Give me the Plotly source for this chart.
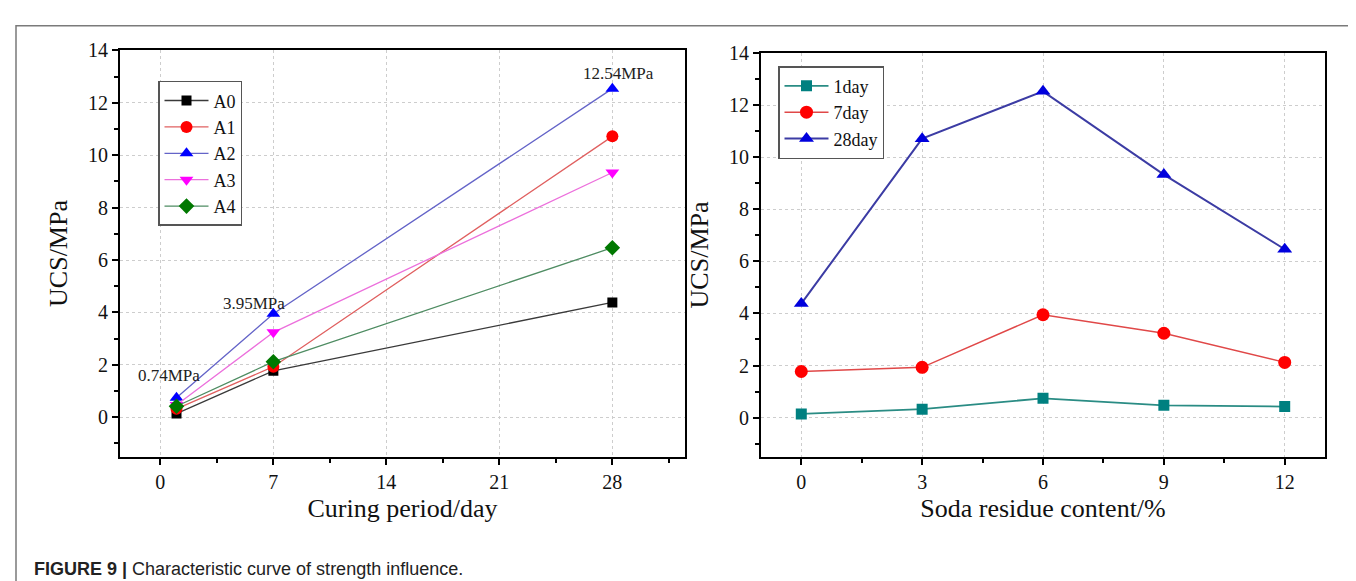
import plotly.graph_objects as go

# ---------------- data ----------------
days = [1, 7, 28]
A0 = [0.14, 1.77, 4.38]
A1 = [0.32, 1.93, 10.72]
A2 = [0.74, 3.95, 12.54]
A3 = [0.47, 3.24, 9.34]
A4 = [0.42, 2.12, 6.47]
left_names = ["A0", "A1", "A2", "A3", "A4"]

content = [0, 3, 6, 9, 12]
day1 = [0.14, 0.32, 0.74, 0.47, 0.42]
day7 = [1.77, 1.93, 3.95, 3.24, 2.12]
day28 = [4.38, 10.72, 12.54, 9.34, 6.47]
right_names = ["1day", "7day", "28day"]

labels_text = ["0.74MPa", "3.95MPa", "12.54MPa"]
label_x = [0.56, 5.8, 28.4]
label_y = [1.59, 4.36, 13.13]

W, H = 1356, 581
SERIF = "Liberation Serif, Times New Roman, serif"
SANS = "Liberation Sans, Arial, sans-serif"

fig = go.Figure()

left_styles = [
    dict(sym="square", mc="#000000", lc="#3a3a3a", size=10),
    dict(sym="circle", mc="#ff0000", lc="#e06060", size=12),
    dict(sym="triangle-up", mc="#0000ff", lc="#6464c8", size=12),
    dict(sym="triangle-down", mc="#ff00ff", lc="#ec70dc", size=12),
    dict(sym="diamond", mc="#007800", lc="#4e8c62", size=12),
]
for name, vals, st in zip(left_names, [A0, A1, A2, A3, A4], left_styles):
    fig.add_trace(go.Scatter(
        x=days, y=vals, name=name, mode="lines+markers",
        line=dict(color=st["lc"], width=1.3),
        marker=dict(symbol=st["sym"], color=st["mc"], size=st["size"]),
        xaxis="x", yaxis="y", legend="legend",
    ))

right_styles = [
    dict(sym="square", mc="#008080", lc="#2a8c84", size=11, w=1.8),
    dict(sym="circle", mc="#ff0000", lc="#e04848", size=13, w=1.5),
    dict(sym="triangle-up", mc="#0000dd", lc="#3c3ca4", size=13, w=2.0),
]
for name, vals, st in zip(right_names, [day1, day7, day28], right_styles):
    fig.add_trace(go.Scatter(
        x=content, y=vals, name=name, mode="lines+markers",
        line=dict(color=st["lc"], width=st["w"]),
        marker=dict(symbol=st["sym"], color=st["mc"], size=st["size"]),
        xaxis="x2", yaxis="y2", legend="legend2",
    ))


def axis(**kw):
    d = dict(
        showline=True, linecolor="black", linewidth=2, mirror=True,
        ticks="outside", ticklen=6, tickwidth=2, tickcolor="black",
        showgrid=True, gridcolor="#cdcdcd", griddash="dot", gridwidth=1,
        zeroline=False,
        tickfont=dict(family=SERIF, size=20, color="#111111"),
    )
    d.update(kw)
    return d


def px_x(p):
    return p / W


def px_y(p):
    return 1 - p / H


minor_style = dict(ticks="outside", ticklen=4, tickwidth=2, tickcolor="black", showgrid=False)
title_font = dict(family=SERIF, size=26, color="#111111")

fig.update_layout(
    width=W, height=H,
    margin=dict(l=0, r=0, t=0, b=0),
    paper_bgcolor="white", plot_bgcolor="white",
    showlegend=True,
    xaxis=axis(
        domain=[px_x(112), px_x(677)], anchor="y",
        range=[-2.5, 32.5], tick0=0, dtick=7,
        minor=dict(tick0=0, dtick=3.5, **minor_style),
        title=dict(text="Curing period/day", font=title_font, standoff=7),
    ),
    yaxis=axis(
        domain=[px_y(446), px_y(32)], anchor="x",
        range=[-1.5, 14], tick0=0, dtick=2,
        minor=dict(tick0=0, dtick=1, **minor_style),
        title=dict(text="UCS/MPa", font=title_font, standoff=13),
    ),
    xaxis2=axis(
        domain=[px_x(753), px_x(1317)], anchor="y2",
        range=[-1, 13], tick0=0, dtick=3,
        minor=dict(tick0=0, dtick=1.5, **minor_style),
        title=dict(text="Soda residue content/%", font=title_font, standoff=7),
    ),
    yaxis2=axis(
        domain=[px_y(446), px_y(35)], anchor="x2",
        range=[-1.5, 14], tick0=0, dtick=2,
        minor=dict(tick0=0, dtick=1, **minor_style),
        title=dict(text="UCS/MPa", font=title_font, standoff=13),
    ),
    legend=dict(
        x=px_x(150), y=px_y(63), xanchor="left", yanchor="top",
        bordercolor="#555555", borderwidth=1.5, bgcolor="white",
        font=dict(family=SERIF, size=18, color="#111111"),
        tracegroupgap=0, itemwidth=44,
    ),
    legend2=dict(
        x=px_x(770), y=px_y(48), xanchor="left", yanchor="top",
        bordercolor="#555555", borderwidth=1.5, bgcolor="white",
        font=dict(family=SERIF, size=18, color="#111111"),
        tracegroupgap=0, itemwidth=44,
    ),
)

for t, xv, yv in zip(labels_text, label_x, label_y):
    fig.add_annotation(
        x=xv, y=yv, xref="x", yref="y", text=t, showarrow=False,
        font=dict(family=SERIF, size=17, color="#222222"),
        xanchor="center", yanchor="middle",
    )

fig.add_annotation(
    x=px_x(24), y=px_y(561), xref="paper", yref="paper",
    xanchor="left", yanchor="middle", showarrow=False,
    text="<b>FIGURE 9 |</b> Characteristic curve of strength influence.",
    font=dict(family=SANS, size=18, color="#222222"),
)

fig.add_shape(
    type="rect", xref="paper", yref="paper",
    x0=px_x(8), x1=px_x(1353), y0=-0.05, y1=px_y(7),
    line=dict(color="#7a7a7a", width=1.5), fillcolor="rgba(0,0,0,0)", layer="below",
)

fig.write_html("out.html")
